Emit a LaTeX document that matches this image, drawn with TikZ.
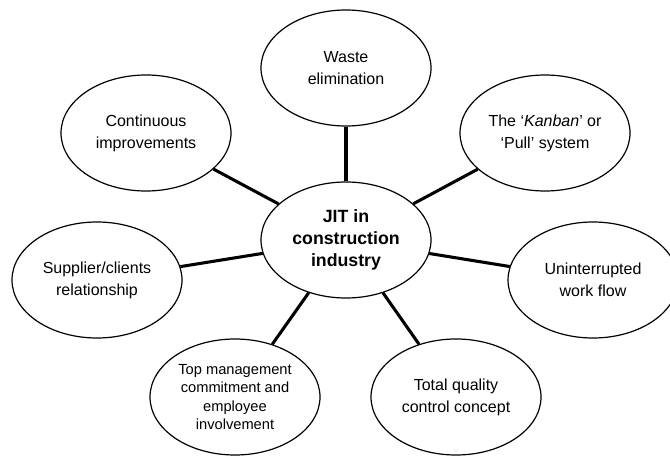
\documentclass[tikz,border=0pt]{standalone}
\usepackage{fontspec}
\setmainfont{Liberation Sans}
\usetikzlibrary{shapes.geometric}
\begin{document}
\begin{tikzpicture}[x=0.75pt,y=-0.75pt,
  bubble/.style={ellipse,draw=black,line width=0.9pt,inner sep=0pt,
    minimum width=127.5pt,minimum height=87pt,align=center,
    font=\fontsize{12}{16.5}\selectfont},
  hub/.style={bubble,font=\bfseries\fontsize{13.3}{16.5}\selectfont},
  small/.style={bubble,font=\fontsize{11}{13.75}\selectfont},
  link/.style={line width=2.3pt}]
\useasboundingbox (0,0) rectangle (670,456);
\node[hub]    (c)  at (346,240) {JIT in\\construction\\industry};
\node[bubble] (w)  at (346,68)  {Waste\\elimination};
\node[bubble] (k)  at (545,133) {The ‘\textit{Kanban}’ or\\‘Pull’ system};
\node[bubble] (u)  at (593,280) {Uninterrupted\\work flow};
\node[bubble] (q)  at (456,397) {Total quality\\control concept};
\node[small]  (m)  at (235,397) {Top management\\commitment and\\employee\\involvement};
\node[bubble] (s)  at (97,280)  {Supplier/clients\\relationship};
\node[bubble] (ci) at (146,133) {Continuous\\improvements};
\foreach \n in {w,k,u,q,m,s,ci}
  \draw[link] (c) -- (\n);
\end{tikzpicture}
\end{document}
